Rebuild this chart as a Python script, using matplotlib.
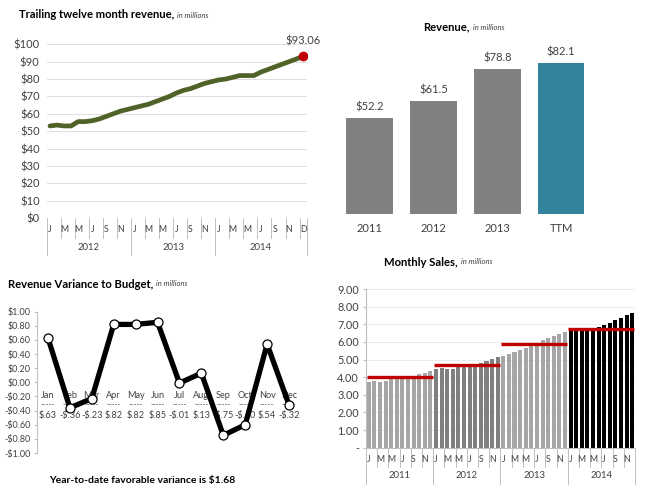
import matplotlib
matplotlib.use('Agg')
import matplotlib.pyplot as plt
import matplotlib.transforms as mtransforms
from matplotlib.lines import Line2D

plt.rcParams['font.family'] = ['Lato', 'DejaVu Sans']

# ---- data ----
months = ['J', 'F', 'M', 'A', 'M', 'J', 'J', 'A', 'S', 'O', 'N', 'D']

# trailing twelve month revenue (Jan 2012 .. last point in 2014)
ttm_years = ['2012', '2013', '2014']
ttm_counts = [12, 12, 13]
ttm_labels = months * 3 + ['D']
ttm_values = [53, 53.5, 53, 53, 55.5, 55.5, 56, 57, 58.5, 60, 61.5, 62.5,
              63.5, 64.5, 65.5, 67, 68.5, 70, 72, 73.5, 74.5, 76, 77.5, 78.5,
              79.5, 80, 81, 82, 82, 82, 84, 85.5, 87, 88.5, 90, 91.5, 93.06]

# yearly revenue
rev_cats = ['2011', '2012', '2013', 'TTM']
rev_values = [52.2, 61.5, 78.8, 82.1]
rev_colors = ['#808080', '#808080', '#808080', '#31849b']

# variance to budget
var_months = ['Jan', 'Feb', 'Mar', 'Apr', 'May', 'Jun', 'Jul', 'Aug', 'Sep', 'Oct', 'Nov', 'Dec']
var_values = [0.63, -0.36, -0.23, 0.82, 0.82, 0.85, -0.01, 0.13, -0.75, -0.60, 0.54, -0.32]
ytd_text = 'Year-to-date favorable variance is $1.68'

# monthly sales
sales_years = ['2011', '2012', '2013', '2014']
sales_2011 = [3.75, 3.78, 3.75, 3.80, 3.90, 3.95, 3.95, 3.98, 4.00, 4.18, 4.25, 4.35]
sales_2012 = [4.45, 4.50, 4.45, 4.45, 4.60, 4.62, 4.65, 4.70, 4.80, 4.92, 5.05, 5.15]
sales_2013 = [5.22, 5.32, 5.42, 5.55, 5.68, 5.82, 5.95, 6.08, 6.20, 6.32, 6.45, 6.58]
sales_2014 = [6.60, 6.65, 6.65, 6.70, 6.75, 6.85, 6.95, 7.10, 7.25, 7.35, 7.55, 7.65]
sales_avg = [4.0, 4.7, 5.88, 6.75]
sales_colors = ['#a6a6a6', '#7f7f7f', '#a6a6a6', '#000000']

W, H = 650, 492
fig = plt.figure(figsize=(6.5, 4.92), dpi=100)
TXT = '#404040'
GRID = '#dedede'


def rect(l, t, r, b):
    return [l / W, 1 - b / H, (r - l) / W, (b - t) / H]


def fy(py):
    return 1 - py / H


def title(x_split, y, bold):
    fig.text(x_split / W, fy(y), bold, ha='right', va='center', fontsize=8.1,
             fontweight='bold', color='black')
    fig.text((x_split + 3) / W, fy(y), 'in millions', ha='left', va='center',
             fontsize=5.5, style='italic', color=TXT)


def cat_axis(ax, years, counts, labels, y_axis, y_month, y_tick, y_year, y_year_end):
    """two level category axis (months / years) drawn below the plot"""
    tr = mtransforms.blended_transform_factory(ax.transData, fig.transFigure)
    lc = '#bfbfbf'
    pos = 0
    for yr, n in zip(years, counts):
        ax.add_line(Line2D([pos - 0.5] * 2, [fy(y_axis), fy(y_year_end)], transform=tr,
                           color=lc, lw=0.7, clip_on=False))
        for k in range(0, n, 2):
            i = pos + k
            ax.text(i, fy(y_month), labels[i], transform=tr, ha='center', va='center',
                    fontsize=6.3, color=TXT)
            if k > 0:
                ax.add_line(Line2D([i - 0.5] * 2, [fy(y_axis), fy(y_tick)], transform=tr,
                                   color=lc, lw=0.7, clip_on=False))
        ax.text(pos + (n - 1) / 2, fy(y_year), yr, transform=tr, ha='center', va='center',
                fontsize=6.8, color=TXT)
        pos += n
    ax.add_line(Line2D([pos - 0.5] * 2, [fy(y_axis), fy(y_year_end)], transform=tr,
                       color=lc, lw=0.7, clip_on=False))


# ---- top left: trailing twelve month revenue ----
ax1 = fig.add_axes(rect(46.5, 44.3, 306.6, 218))
x_ttm = list(range(len(ttm_values)))
ax1.plot(x_ttm, ttm_values, color='#4f6228', lw=3.4, solid_capstyle='round', zorder=3)
ax1.plot(x_ttm[-1], ttm_values[-1], 'o', color='#c00000', ms=6, zorder=4)
ax1.annotate(f'${ttm_values[-1]:.2f}', (x_ttm[-1], ttm_values[-1]), xytext=(0, 11),
             textcoords='offset points', ha='center', va='center', fontsize=8, color=TXT)
ax1.set_xlim(-0.5, 36.5)
ax1.set_ylim(0, 100)
ax1.set_yticks(range(0, 101, 10))
ax1.set_yticklabels([f'${v}' for v in range(0, 101, 10)])
ax1.yaxis.grid(True, color=GRID, lw=0.7)
ax1.set_axisbelow(True)
ax1.set_xticks([])
ax1.tick_params(axis='y', length=0, labelsize=8, labelcolor=TXT, pad=5)
for s in ax1.spines.values():
    s.set_visible(False)
cat_axis(ax1, ttm_years, ttm_counts, ttm_labels, 218, 230, 238, 247, 255)
title(174, 15, 'Trailing twelve month revenue,')

# ---- top right: revenue bars ----
ax2 = fig.add_axes(rect(337.5, 30, 593, 214))
xr = range(len(rev_cats))
ax2.bar(xr, rev_values, width=0.73, color=rev_colors)
tr2 = mtransforms.blended_transform_factory(ax2.transData, fig.transFigure)
for i, v in zip(xr, rev_values):
    ax2.annotate(f'${v:.1f}', (i, v), xytext=(0, 8), textcoords='offset points',
                 ha='center', va='center', fontsize=8, color=TXT)
    ax2.text(i, fy(229), rev_cats[i], transform=tr2, ha='center', va='center',
             fontsize=8, color=TXT)
ax2.set_xlim(-0.5, 3.5)
ax2.set_ylim(0, 100)
ax2.axis('off')
title(470, 27, 'Revenue,')

# ---- bottom left: variance to budget ----
ax3 = fig.add_axes(rect(37, 311.7, 300, 453))
xv = list(range(len(var_values)))
ax3.plot(xv, var_values, color='black', lw=3.8, zorder=3)
ax3.plot(xv, var_values, 'o', ms=6.5, mfc='white', mec='black', mew=0.9, zorder=4)


def money(v):
    s = f'{abs(v):.2f}'.lstrip('0')
    return ('-$' if v < 0 else '$') + s


for i, (m, v) in enumerate(zip(var_months, var_values)):
    ax3.text(i, -0.18, m, ha='center', va='center', fontsize=6.6, color=TXT, zorder=2)
    ax3.text(i, -0.31, '-----', ha='center', va='center', fontsize=5.5, color=TXT, zorder=2)
    ax3.text(i, -0.47, money(v), ha='center', va='center', fontsize=6.6, color=TXT, zorder=2)
ax3.set_xlim(-0.5, 11.5)
ax3.set_ylim(-1, 1)
yt = [round(-1 + 0.2 * k, 1) for k in range(11)]
ax3.set_yticks(yt)
ax3.set_yticklabels([('-$' if v < 0 else '$') + f'{abs(v):.2f}' for v in yt])
ax3.set_xticks([])
ax3.tick_params(axis='y', length=2.5, color='#bfbfbf', labelsize=6.5, labelcolor=TXT, pad=2)
for k in ['top', 'right', 'bottom']:
    ax3.spines[k].set_visible(False)
ax3.spines['left'].set_color('#bfbfbf')
title(153, 284, 'Revenue Variance to Budget,')
fig.text(142 / W, fy(481), ytd_text, ha='center', va='center', fontsize=7.5,
         fontweight='bold', color='black')

# ---- bottom right: monthly sales ----
ax4 = fig.add_axes(rect(366, 289, 635, 447.7))
sales = [sales_2011, sales_2012, sales_2013, sales_2014]
pos = 0
for vals, c, avg in zip(sales, sales_colors, sales_avg):
    xs = list(range(pos, pos + len(vals)))
    ax4.bar(xs, vals, width=0.72, color=c, zorder=2)
    ax4.hlines(avg, pos - 0.4, pos + len(vals) - 0.6, color='#c00000', lw=2.4, zorder=3)
    pos += len(vals)
ax4.set_xlim(-0.5, pos - 0.5)
ax4.set_ylim(0, 9)
ax4.set_yticks(range(0, 10))
ax4.set_yticklabels(['-'] + [f'{v:.2f}' for v in range(1, 10)])
ax4.yaxis.grid(True, color='#ececec', lw=0.7)
ax4.set_axisbelow(True)
ax4.set_xticks([])
ax4.tick_params(axis='y', length=2, color='#bfbfbf', labelsize=7.8, labelcolor=TXT, pad=3)
for k in ['top', 'right']:
    ax4.spines[k].set_visible(False)
ax4.spines['left'].set_color('#bfbfbf')
ax4.spines['bottom'].set_color('#bfbfbf')
cat_axis(ax4, sales_years, [12] * 4, months * 4, 447.7, 459, 467, 476, 484)
title(458, 262, 'Monthly Sales,')

fig.savefig('out.png', dpi=100)
